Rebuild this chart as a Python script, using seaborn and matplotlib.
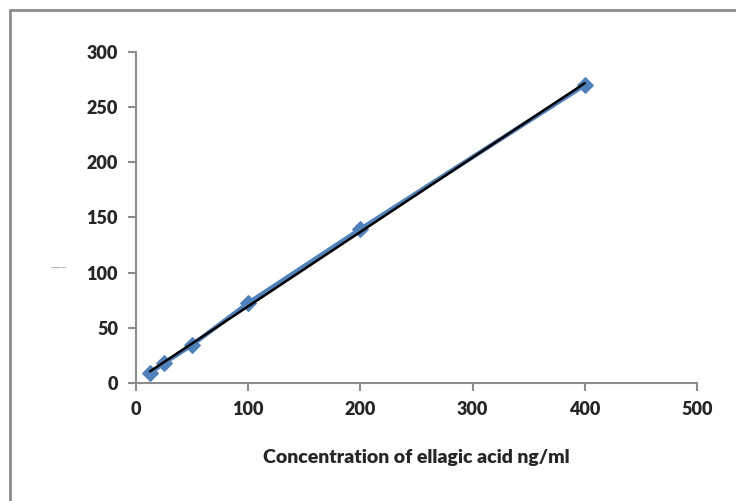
import numpy as np
import pandas as pd
import matplotlib.pyplot as plt
import seaborn as sns
from matplotlib.lines import Line2D

# Calibration data
concentration = [12.5, 25, 50, 100, 200, 400]
response = [9, 18, 34.5, 72.5, 139.5, 270]

x_ticks = [0, 100, 200, 300, 400, 500]
y_ticks = [0, 50, 100, 150, 200, 250, 300]

df = pd.DataFrame({"conc": concentration, "resp": response})

sns.set_style("white")
plt.rcParams['font.family'] = ['Lato', 'DejaVu Sans']

fig = plt.figure(figsize=(7.36, 5.01), dpi=100)
ax = fig.add_axes([136 / 736, 1 - 383 / 501, 561 / 736, 331 / 501])

# outer chart border (left and top visible)
fig.add_artist(Line2D([10 / 736, 10 / 736], [0, 1 - 10 / 501], transform=fig.transFigure,
                      color="#8c8c8c", lw=2))
fig.add_artist(Line2D([10 / 736, 1], [1 - 10 / 501, 1 - 10 / 501], transform=fig.transFigure,
                      color="#8c8c8c", lw=2))

sns.lineplot(data=df, x="conc", y="resp", ax=ax, color="#4F81BD", lw=3.2,
             marker="D", markersize=8, markeredgecolor="#4F81BD")
sns.regplot(data=df, x="conc", y="resp", ax=ax, scatter=False, ci=None,
            color="black", line_kws={"lw": 1.8})

ax.set_xlim(0, 500)
ax.set_ylim(0, 300)
ax.set_xticks(x_ticks)
ax.set_yticks(y_ticks)
ax.set_xticklabels([str(t) for t in x_ticks], fontsize=13, fontweight="heavy")
ax.set_yticklabels([str(t) for t in y_ticks], fontsize=13, fontweight="heavy")
ax.set_xlabel("Concentration of ellagic acid ng/ml", fontsize=14, fontweight="heavy", labelpad=22)
ax.set_ylabel("")

for side in ["top", "right"]:
    ax.spines[side].set_visible(False)
for side in ["left", "bottom"]:
    ax.spines[side].set_color("#8c8c8c")
    ax.spines[side].set_linewidth(1.5)
ax.tick_params(axis="both", direction="out", length=6, width=1.5, color="#8c8c8c",
               bottom=True, left=True, pad=7)

# tiny collapsed axis title
fig.text(59 / 736, 1 - 268 / 501, "———", fontsize=5, color="#666666", ha="center", va="center")

fig.savefig("out.png", dpi=100)
